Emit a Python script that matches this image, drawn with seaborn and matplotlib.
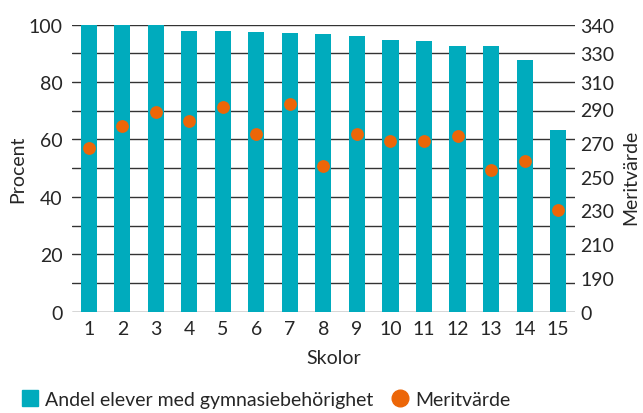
import numpy as np
import pandas as pd
import matplotlib
matplotlib.use('Agg')
import matplotlib.pyplot as plt
from matplotlib.lines import Line2D
import seaborn as sns

# Data
schools = [str(i) for i in range(1, 16)]
andel = [100, 100, 100, 97.8, 97.8, 97.4, 97.2, 96.7, 96.0, 94.7, 94.2, 92.5, 92.5, 87.6, 63.4]
merit = [267, 280, 288, 283, 291, 275, 293, 256, 275, 271, 271, 274, 254, 259, 230]

left_ticks = [0, 20, 40, 60, 80, 100]
right_ticks = [170, 190, 210, 230, 250, 270, 290, 306, 323, 340]
right_labels = ['0', '190', '210', '230', '250', '270', '290', '310', '330', '340']

bar_color = '#00ABBD'
dot_color = '#EC6608'
grid_color = '#333333'
fs = 14

df = pd.DataFrame({'Skola': schools, 'Andel': andel, 'Merit': merit})

sns.set_style('white')
plt.rcParams['font.family'] = ['Lato', 'DejaVu Sans']

fig = plt.figure(figsize=(6.43, 4.14), dpi=100)
ax = fig.add_axes([0.112, 0.2447, 0.782, 0.6933])

# Bars: share of students eligible for upper secondary school
sns.barplot(data=df, x='Skola', y='Andel', color=bar_color, saturation=1,
            width=0.48, linewidth=0, ax=ax, zorder=2)
ax.set_xlim(-0.5, 14.5)
ax.set_ylim(0, 100)
ax.set_yticks(left_ticks)
ax.set_yticks(np.arange(0, 101, 10), minor=True)
ax.grid(True, axis='y', which='both', color=grid_color, linewidth=1.0, zorder=0)
ax.set_axisbelow(True)
ax.tick_params(axis='y', which='both', length=0, pad=7, labelsize=fs)
ax.tick_params(axis='x', length=0, pad=6, labelsize=fs)
ax.set_xlabel('Skolor', fontsize=fs)
ax.set_ylabel('Procent', fontsize=fs)
ax.xaxis.set_label_coords(0.52, -0.158)
ax.yaxis.set_label_coords(-0.107, 0.5)
ax.yaxis.label.set_va('center')
ax.xaxis.label.set_va('center')
for s in ax.spines.values():
    s.set_visible(False)

# Dots: merit value on the secondary axis
ax2 = ax.twinx()
sns.scatterplot(x=np.arange(len(schools)), y=df['Merit'], color=dot_color,
                s=85, linewidth=0, ax=ax2, zorder=3)
ax2.set_ylim(170, 340)
ax2.set_yticks(right_ticks)
ax2.set_yticklabels(right_labels)
ax2.tick_params(axis='y', length=0, pad=4, labelsize=fs)
ax2.set_ylabel('Meritvärde', fontsize=fs, rotation=90)
ax2.yaxis.label.set_va('center')
ax2.yaxis.label.set_ha('center')
ax2.yaxis.set_label_coords(1.112, 0.47)
for s in ax2.spines.values():
    s.set_visible(False)

handles = [
    Line2D([], [], marker='s', color=bar_color, linestyle='none', markersize=12),
    Line2D([], [], marker='o', color=dot_color, linestyle='none', markersize=12),
]
fig.legend(handles, ['Andel elever med gymnasiebehörighet', 'Meritvärde'],
           loc='lower left', bbox_to_anchor=(0.008, -0.03), ncol=2, frameon=False,
           fontsize=fs, handlelength=0.8, handletextpad=0.35, columnspacing=1.0)

fig.savefig('out.png', dpi=100)
